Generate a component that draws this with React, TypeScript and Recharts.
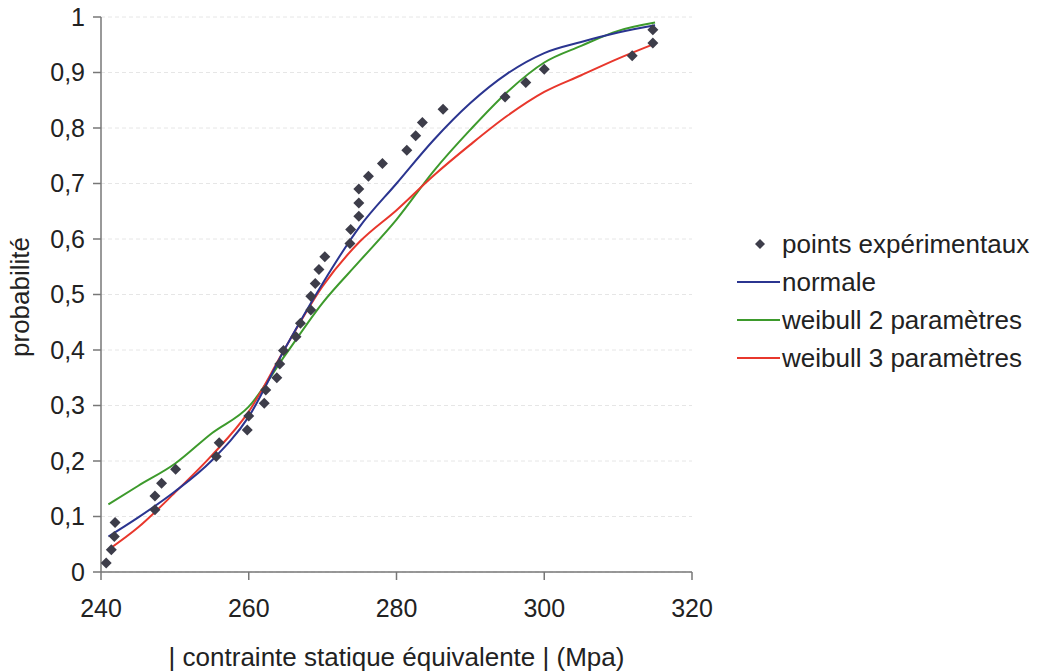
import { ComposedChart, Line, Scatter, XAxis, YAxis, CartesianGrid } from 'recharts';

const FONT = '"Liberation Sans", Arial, sans-serif';

// experimental points
const pointsX = [
  240.7, 241.4, 241.8, 241.9, 247.3, 247.3, 248.2, 250.1, 255.6, 256.0, 259.8, 260.0, 262.1, 262.3,
  263.8, 264.2, 264.7, 266.4, 267.0, 268.4, 268.4, 269.0, 269.5, 270.3, 273.7, 273.8, 274.9, 274.9,
  274.9, 276.2, 278.1, 281.4, 282.6, 283.5, 286.3, 294.7, 297.5, 300.0, 311.9, 314.7, 314.7,
];
const pointsY = [
  0.016, 0.04, 0.064, 0.089, 0.112, 0.137, 0.16, 0.185, 0.208, 0.233, 0.256, 0.281, 0.304, 0.328,
  0.35, 0.375, 0.399, 0.424, 0.448, 0.472, 0.497, 0.52, 0.545, 0.568, 0.592, 0.617, 0.641, 0.665,
  0.69, 0.713, 0.736, 0.76, 0.786, 0.81, 0.834, 0.856, 0.882, 0.906, 0.93, 0.953, 0.977,
];

// fitted curves
const curveX = [241, 245, 250, 255, 260, 265, 270, 275, 280, 285, 290, 295, 300, 305, 310, 315];
const normale = [0.064, 0.098, 0.145, 0.201, 0.28, 0.405, 0.52, 0.622, 0.7, 0.778, 0.845, 0.898, 0.935, 0.955, 0.972, 0.985];
const weibull2 = [0.122, 0.155, 0.195, 0.25, 0.298, 0.392, 0.485, 0.56, 0.635, 0.722, 0.797, 0.865, 0.918, 0.948, 0.975, 0.99];
const weibull3 = [0.04, 0.08, 0.143, 0.21, 0.289, 0.405, 0.515, 0.595, 0.652, 0.714, 0.77, 0.822, 0.865, 0.895, 0.925, 0.952];

const xTicks = [240, 260, 280, 300, 320];
const yTicks = [0, 0.1, 0.2, 0.3, 0.4, 0.5, 0.6, 0.7, 0.8, 0.9, 1];

const legendItems = [
  { name: 'points expérimentaux', color: '#3d3d4a', kind: 'point' },
  { name: 'normale', color: '#2b3590', kind: 'line' },
  { name: 'weibull 2 paramètres', color: '#3d9a2c', kind: 'line' },
  { name: 'weibull 3 paramètres', color: '#e8372c', kind: 'line' },
];

const points = pointsX.map((x, i) => ({ x, y: pointsY[i] }));
const curve = (ys: number[]) => curveX.map((x, i) => ({ x, y: ys[i] }));

const Diamond = (props: any) => {
  const { cx, cy } = props;
  const r = 5.5;
  return (
    <polygon
      points={`${cx},${cy - r} ${cx + r},${cy} ${cx},${cy + r} ${cx - r},${cy}`}
      fill='#3d3d4a'
    />
  );
};

const fmt = (v: number) => (v === 0 ? '0' : v === 1 ? '1' : v.toFixed(1).replace('.', ','));

export default function App() {
  return (
    <div style={{ position: 'absolute', left: 0, top: 0, width: 1041, height: 671, fontFamily: FONT }}>
      <ComposedChart
        width={1041}
        height={671}
        margin={{ top: 17, right: 349, bottom: 0, left: 0 }}
      >
        <CartesianGrid vertical={false} stroke='#e6e6e6' strokeDasharray='4 3' />
        <XAxis
          type='number'
          dataKey='x'
          domain={[240, 320]}
          ticks={xTicks}
          height={99}
          stroke='#777'
          strokeWidth={1.5}
          tickSize={8}
          tickMargin={19}
          tick={{ fill: '#222', fontSize: 25, fontFamily: FONT }}
          label={{
            value: '| contrainte statique équivalente | (Mpa)',
            position: 'insideBottom',
            offset: 5,
            fill: '#222',
            fontSize: 26,
            fontFamily: FONT,
          }}
        />
        <YAxis
          type='number'
          domain={[0, 1]}
          ticks={yTicks}
          width={101}
          stroke='#777'
          strokeWidth={1.5}
          tickSize={8}
          tickMargin={8}
          tickFormatter={fmt}
          tick={{ fill: '#222', fontSize: 25, fontFamily: FONT }}
          label={{
            content: () => (
              <text
                x={20}
                y={297}
                transform='rotate(-90 20 297)'
                textAnchor='middle'
                dominantBaseline='central'
                fill='#222'
                fontSize={26}
                fontFamily={FONT}
              >
                probabilité
              </text>
            ),
          }}
        />
        <Line data={curve(weibull2)} dataKey='y' type='monotone' stroke='#3d9a2c' strokeWidth={2} dot={false} isAnimationActive={false} />
        <Line data={curve(weibull3)} dataKey='y' type='monotone' stroke='#e8372c' strokeWidth={2} dot={false} isAnimationActive={false} />
        <Line data={curve(normale)} dataKey='y' type='monotone' stroke='#2b3590' strokeWidth={2} dot={false} isAnimationActive={false} />
        <Scatter data={points} dataKey='y' shape={Diamond} isAnimationActive={false} />
      </ComposedChart>
      <div style={{ position: 'absolute', left: 736, top: 225, color: '#222', fontSize: 26, lineHeight: '38px' }}>
        {legendItems.map((it) => (
          <div key={it.name} style={{ display: 'flex', alignItems: 'center', whiteSpace: 'nowrap' }}>
            <svg width={46} height={38} style={{ flexShrink: 0 }}>
              {it.kind === 'point' ? (
                <polygon points='24,14 29,19 24,24 19,19' fill={it.color} />
              ) : (
                <line x1={1} y1={19} x2={44} y2={19} stroke={it.color} strokeWidth={2} />
              )}
            </svg>
            <span>{it.name}</span>
          </div>
        ))}
      </div>
    </div>
  );
}
